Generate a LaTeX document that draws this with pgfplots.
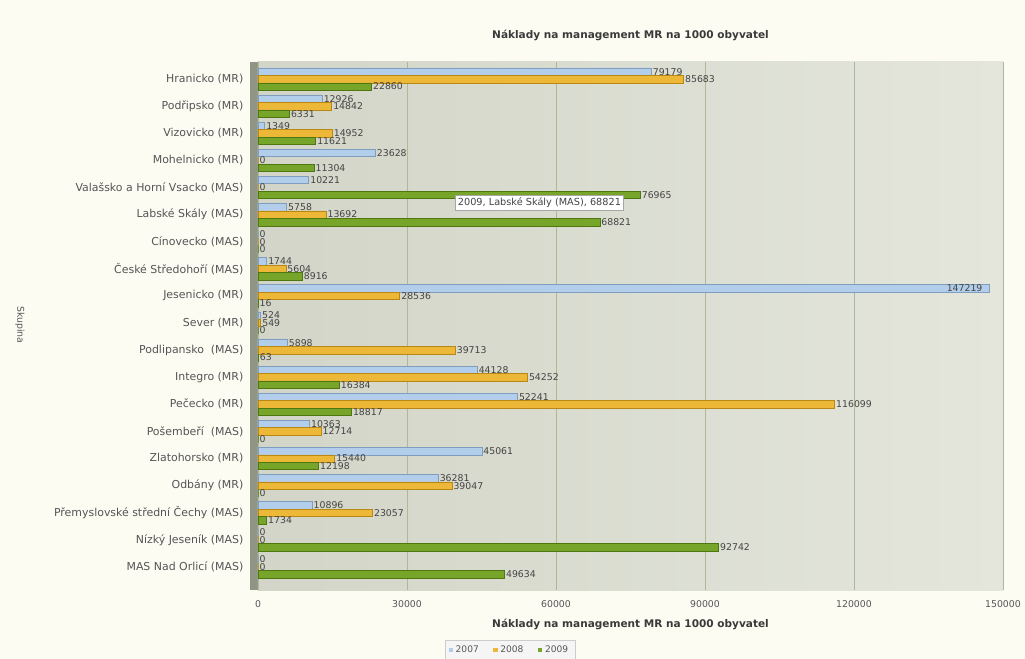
\documentclass[border=0pt]{standalone}
\usepackage{pgfplots}
\pgfplotsset{compat=1.18}
\usepackage{fontspec}
\setmainfont{DejaVu Sans}
\definecolor{cream}{HTML}{FCFCF3}
\definecolor{plotL}{HTML}{D2D5C7}
\definecolor{plotR}{HTML}{E4E6DC}
\definecolor{gridc}{HTML}{AEB798}
\definecolor{wallc}{HTML}{8F9585}
\definecolor{c07}{HTML}{B3CEEA}
\definecolor{d07}{HTML}{7F9DBE}
\definecolor{c08}{HTML}{EDB838}
\definecolor{d08}{HTML}{B98812}
\definecolor{c09}{HTML}{77A52A}
\definecolor{d09}{HTML}{4E7710}
\definecolor{txtc}{HTML}{555555}
\definecolor{valc}{HTML}{444444}
\definecolor{titc}{HTML}{3A3A3A}
\pgfplotstableread{
idx a b c sa
0 79179 85683 22860 0
1 12926 14842 6331 0
2 1349 14952 11621 0
3 23628 0 11304 0
4 10221 0 76965 0
5 5758 13692 68821 0
6 0 0 0 0
7 1744 5604 8916 0
8 147219 28536 16 -33
9 524 549 0 0
10 5898 39713 63 0
11 44128 54252 16384 0
12 52241 116099 18817 0
13 10363 12714 0 0
14 45061 15440 12198 0
15 36281 39047 0 0
16 10896 23057 1734 0
17 0 0 92742 0
18 0 0 49634 0
}\data
\begin{document}
\begin{tikzpicture}
\fill[cream] (-193.5pt,-51.75pt) rectangle (575.25pt,442.5pt);
\fill[wallc] (-6pt,0pt) rectangle (0pt,396pt);
\begin{axis}[
  at={(0,0)}, anchor=south west,
  scale only axis, width=558.75pt, height=396pt,
  xbar, bar width=5.6pt,
  xmin=0, xmax=150000, ymin=-0.63, ymax=18.85, y dir=reverse,
  xtick={0,30000,60000,90000,120000,150000},
  ytick={0,...,18},
  yticklabels={Hranicko (MR),Podřipsko (MR),Vizovicko (MR),Mohelnicko (MR),Valašsko a Horní Vsacko (MAS),Labské Skály (MAS),Cínovecko (MAS),České Středohoří (MAS),Jesenicko (MR),Sever (MR),Podlipansko\ \ (MAS),Integro (MR),Pečecko (MR),Pošembeří\ \ (MAS),Zlatohorsko (MR),Odbány (MR),Přemyslovské střední Čechy (MAS),Nízký Jeseník (MAS),MAS Nad Orlicí (MAS)},
  scaled x ticks=false,
  /pgf/number format/fixed,
  /pgf/number format/precision=0,
  /pgf/number format/1000 sep={},
  /pgf/number format/assume math mode=true,
  axis line style={draw=none},
  major tick length=0pt,
  xmajorgrids, grid style={color=gridc, line width=0.6pt},
  axis background/.style={left color=plotL, right color=plotR},
  clip=false,
  tick label style={font=\fontsize{7}{8}\selectfont, text=txtc},
  yticklabel style={font=\fontsize{8.2}{9}\selectfont, anchor=east, xshift=-7.5pt},
  xticklabel style={anchor=center, yshift=-10.5pt},
  nodes near coords,
  nodes near coords style={font=\fontsize{7}{7}\selectfont, text=valc, inner sep=1pt, anchor=west},
  legend columns=3,
  legend style={at={(axis description cs:0.338,-0.114)}, anchor=center, draw=gray!40, fill=white!92!gray,
    font=\fontsize{6.8}{8}\selectfont, text=txtc, inner xsep=3pt, inner ysep=2pt,
    /tikz/every even column/.append style={column sep=9pt}},
  legend image code/.code={\path[#1,draw=none] (0pt,-1.6pt) rectangle (3.2pt,1.6pt);},
]
\addplot[fill=c07, draw=d07, line width=0.4pt, bar shift=5.6pt,
  visualization depends on={\thisrow{sa} \as \sa},
  every node near coord/.append style={xshift=\sa pt}] table[x=a, y=idx] {\data};
\addplot[fill=c08, draw=d08, line width=0.4pt, bar shift=0pt] table[x=b, y=idx] {\data};
\addplot[fill=c09, draw=d09, line width=0.4pt, bar shift=-5.6pt] table[x=c, y=idx] {\data};
\legend{2007,2008,2009}
\node[font=\bfseries\fontsize{7.9}{9}\selectfont, text=titc] at (axis description cs:0.5,1.051) {Náklady na management MR na 1000 obyvatel};
\node[font=\bfseries\fontsize{7.9}{9}\selectfont, text=titc] at (axis description cs:0.5,-0.066) {Náklady na management MR na 1000 obyvatel};
\node[font=\fontsize{7}{8}\selectfont, text=txtc, rotate=-90] at (axis description cs:-0.3195,0.502) {Skupina};
\node[font=\fontsize{7.3}{8}\selectfont, text=valc, fill=white, draw=gray!70, inner sep=2pt, anchor=west] at (axis description cs:0.2644,0.733) {2009, Labské Skály (MAS), 68821};
\end{axis}
\pgfresetboundingbox
\path (-193.5pt,-51.75pt) rectangle (575.25pt,442.5pt);
\end{tikzpicture}
\end{document}
